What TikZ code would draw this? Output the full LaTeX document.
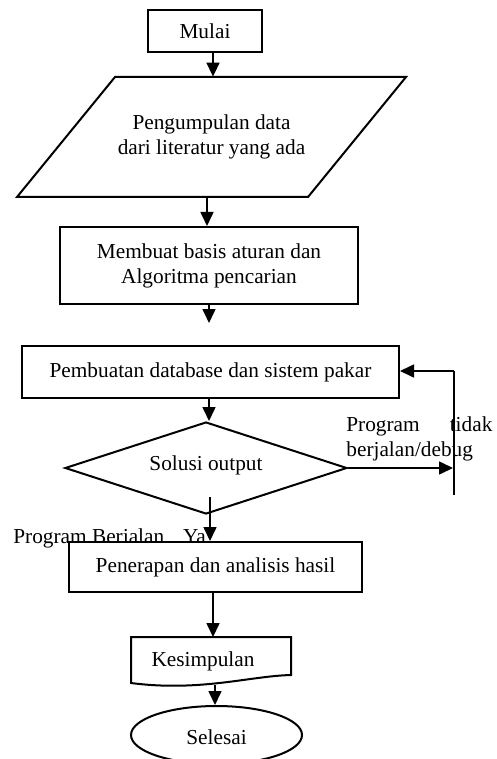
\documentclass[tikz,border=0pt]{standalone}
\usepackage{fontspec}
\setmainfont{Liberation Serif}
\usetikzlibrary{shapes.geometric,arrows.meta}
\begin{document}
\begin{tikzpicture}[x=0.5pt,y=-0.5pt,
  every node/.style={font=\fontsize{10.65pt}{12.5pt}\selectfont, inner sep=0pt},
  box/.style={draw, line width=1pt, fill=white, rectangle, align=center},
  shapeline/.style={draw, line width=1pt},
  arr/.style={line width=0.8pt, -{Triangle[length=7pt,width=6.5pt]}},
  ln/.style={line width=0.8pt}]
\fill[white] (0,0) rectangle (497,759);
\useasboundingbox (0,0) rectangle (497,759);

% Mulai
\node[box, minimum width=57pt, minimum height=21pt] (mulai) at (205,31) {Mulai};

% Parallelogram
\draw[shapeline] (17,197) -- (115,77) -- (406,77) -- (308,197) -- cycle;
\node[align=center, minimum width=145.5pt, minimum height=60pt] (data) at (211.5,137) {Pengumpulan data\\dari literatur yang ada};

% Membuat basis aturan
\node[box, minimum width=149pt, minimum height=38.5pt] (aturan) at (209,265.5) {Membuat basis aturan dan\\Algoritma pencarian};

% Pembuatan database
\node[box, minimum width=188.5pt, minimum height=26pt] (db) at (210.5,372) {Pembuatan database dan sistem pakar};

% Diamond
\node[shapeline, diamond, minimum width=141pt, minimum height=46pt] (dia) at (206,468) {};
\node (soltext) at (206,465) {Solusi output};

% Label right
\node[anchor=west, text width=73pt, align=left] (tidak) at (346,439) {Program\hfill tidak\\berjalan/debug};

% Label bottom-left (partly covered by box)
\node[anchor=base west] (ya) at (13,543) {Program Berjalan\hspace{9.5pt}Ya};

% Penerapan
\node[box, minimum width=146.5pt, minimum height=25pt] (hasil) at (215.5,567) {Penerapan dan analisis hasil};

% Kesimpulan (document)
\draw[shapeline, fill=white] (131,637) -- (291,637) -- (291,675) .. controls (250,676) and (200,692) .. (131,683) -- cycle;
\node (kes) at (203,661) {Kesimpulan};
\coordinate (kestop) at (213,637);
\coordinate (kesbot) at (215,685);

% Selesai
\node[shapeline, ellipse, minimum width=85.5pt, minimum height=29pt] (selesai) at (216.5,735) {};
\node (seltext) at (216.5,737) {Selesai};

% Helper coordinates
\coordinate (gap) at (209,323);
\coordinate (r1) at (453,468);
\coordinate (rtop) at (454,371);
\coordinate (rbot) at (454,495);
\coordinate (din) at (210,497);

% Connectors
\draw[arr] (213,0 |- mulai.south) -- (213,0 |- data.north);
\draw[arr] (207,0 |- data.south) -- (207,0 |- aturan.north);
\draw[arr] (209,0 |- aturan.south) -- (gap);
\draw[arr] (209,0 |- db.south) -- (209,0 |- dia.north);
\draw[arr] (dia.east) -- (r1);
\draw[ln] (rbot) -- (rtop);
\draw[arr] (rtop) -- (rtop -| db.east);
\draw[arr] (din) -- (din |- hasil.north);
\draw[arr] (213,0 |- hasil.south) -- (kestop);
\draw[arr] (kesbot) -- (215,0 |- selesai.north);
\end{tikzpicture}
\end{document}
